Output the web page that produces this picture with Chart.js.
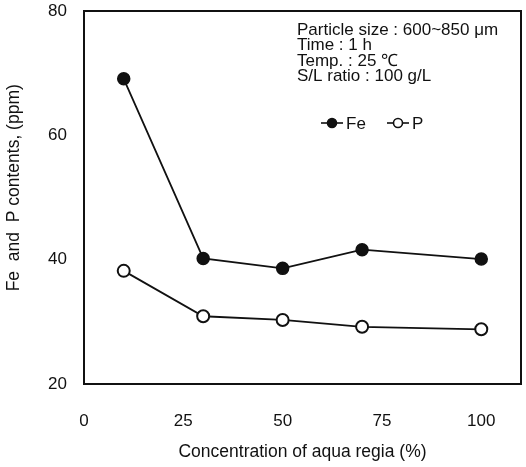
<!DOCTYPE html>
<html>
<head>
<meta charset="utf-8">
<script src="https://cdn.jsdelivr.net/npm/chart.js@4"></script>
<style>
  html, body { margin: 0; padding: 0; background: #fff; }
  #wrap { width: 526px; height: 467px; }
</style>
</head>
<body>
<div id="wrap"><canvas id="c" width="526" height="467"></canvas></div>
<script>
// Aqua regia concentration (%)
const concentration = [10, 30, 50, 70, 100];
// Fe and P contents (ppm)
const feValues = [69.1, 40.2, 38.6, 41.6, 40.1];
const pValues = [38.2, 30.9, 30.3, 29.2, 28.8];
const xTicks = [0, 25, 50, 75, 100];
const yTicks = [20, 40, 60, 80];
const conditions = [
  'Particle size : 600~850 \u03bcm',
  'Time : 1 h',
  'Temp. : 25 \u2103',
  'S/L ratio : 100 g/L'
];

const FONT = '"Liberation Sans", Arial, sans-serif';
const INK = '#111';

// Box around the plot area, plus the condition notes and the legend
const framePlugin = {
  id: 'frame',
  afterDatasetsDraw(chart) {
    const { ctx, chartArea: a } = chart;
    ctx.save();
    ctx.strokeStyle = INK;
    ctx.lineWidth = 2;
    ctx.strokeRect(a.left, a.top, a.right - a.left, a.bottom - a.top);

    ctx.fillStyle = INK;
    ctx.font = '17px ' + FONT;
    ctx.textBaseline = 'middle';
    ctx.textAlign = 'left';
    const tx = 297;
    conditions.forEach((t, i) => ctx.fillText(t, tx, 30 + i * 15.6));

    // legend entries
    const ly = 123;
    const items = [
      { x: 332, label: 'Fe', fill: INK },
      { x: 398, label: 'P', fill: '#fff' }
    ];
    ctx.lineWidth = 1.6;
    items.forEach(it => {
      ctx.beginPath();
      ctx.moveTo(it.x - 11, ly);
      ctx.lineTo(it.x + 11, ly);
      ctx.stroke();
      ctx.beginPath();
      ctx.arc(it.x, ly, 4.5, 0, Math.PI * 2);
      ctx.fillStyle = it.fill;
      ctx.fill();
      ctx.stroke();
      ctx.fillStyle = INK;
      ctx.fillText(it.label, it.x + 14, ly + 1);
    });
    ctx.restore();
  }
};

new Chart(document.getElementById('c'), {
  type: 'line',
  data: {
    datasets: [
      {
        label: 'Fe',
        data: concentration.map((x, i) => ({ x, y: feValues[i] })),
        borderColor: INK,
        borderWidth: 1.8,
        pointBackgroundColor: INK,
        pointBorderColor: INK,
        pointBorderWidth: 1.5,
        pointRadius: 6,
        tension: 0
      },
      {
        label: 'P',
        data: concentration.map((x, i) => ({ x, y: pValues[i] })),
        borderColor: INK,
        borderWidth: 1.8,
        pointBackgroundColor: '#fff',
        pointBorderColor: INK,
        pointBorderWidth: 2,
        pointRadius: 6,
        tension: 0
      }
    ]
  },
  options: {
    responsive: false,
    animation: false,
    layout: { autoPadding: false, padding: { top: 11, right: 5, left: 0, bottom: 0 } },
    plugins: { legend: { display: false }, tooltip: { enabled: false } },
    scales: {
      x: {
        type: 'linear',
        min: 0,
        max: 110,
        afterBuildTicks(scale) { scale.ticks = xTicks.map(v => ({ value: v })); },
        afterFit(scale) {
          scale.height = 83;
          scale.paddingLeft = 0;
          scale.paddingRight = 0;
        },
        grid: { display: false, drawTicks: true, tickLength: 5, tickColor: INK, tickWidth: 2 },
        border: { display: true, color: INK, width: 2 },
        ticks: { color: INK, font: { family: FONT, size: 17 }, padding: 22 },
        title: {
          display: true,
          text: 'Concentration of aqua regia (%)',
          color: INK,
          font: { family: FONT, size: 17.5 },
          padding: { top: 2 }
        }
      },
      y: {
        type: 'linear',
        min: 20,
        max: 80,
        afterBuildTicks(scale) { scale.ticks = yTicks.map(v => ({ value: v })); },
        afterFit(scale) {
          scale.width = 84;
          scale.paddingTop = 0;
          scale.paddingBottom = 0;
        },
        grid: { display: false, drawTicks: true, tickLength: 5, tickColor: INK, tickWidth: 2 },
        border: { display: true, color: INK, width: 2 },
        ticks: { color: INK, font: { family: FONT, size: 17 }, padding: 12 },
        title: {
          display: true,
          text: '    Fe  and  P contents, (ppm)',
          color: INK,
          font: { family: FONT, size: 17.5 },
          padding: { bottom: 8 }
        }
      }
    }
  },
  plugins: [framePlugin]
});
</script>
</body>
</html>
